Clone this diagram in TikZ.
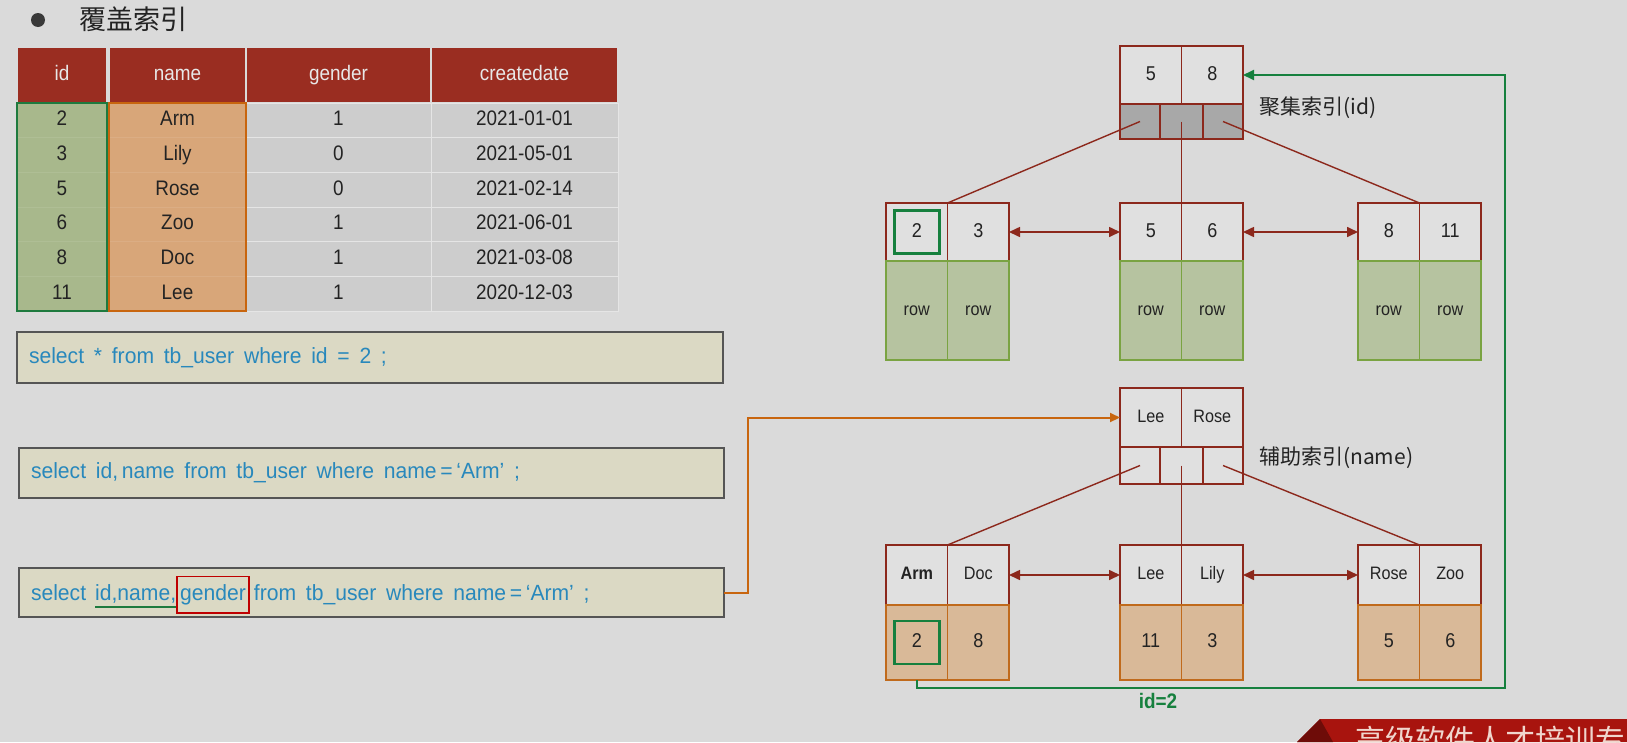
\documentclass[tikz,border=0pt]{standalone}
\usepackage{fontspec}
\setmainfont{Liberation Sans}
\newfontfamily\latfont{Liberation Sans}[FakeStretch=0.9]
\newfontfamily\qfont{Liberation Sans}[FakeStretch=0.96,WordSpace=1.66]
\newfontfamily\cjk{Noto Sans CJK SC}
\usepackage{xcolor}
\usetikzlibrary{positioning,calc,arrows.meta}

\definecolor{bgc}{RGB}{218,218,218}
\definecolor{hdred}{RGB}{154,45,33}
\definecolor{hdtxt}{RGB}{232,232,232}
\definecolor{txtdark}{RGB}{35,35,35}
\definecolor{idfill}{RGB}{168,184,140}
\definecolor{idline}{RGB}{30,122,62}
\definecolor{namefill}{RGB}{216,166,121}
\definecolor{nameline}{RGB}{200,101,14}
\definecolor{cellgrey}{RGB}{205,205,205}
\definecolor{qfill}{RGB}{219,217,196}
\definecolor{qline}{RGB}{85,85,85}
\definecolor{qblue}{RGB}{40,136,188}
\definecolor{treered}{RGB}{140,40,28}
\definecolor{keyfill}{RGB}{224,224,224}
\definecolor{ptrgrey}{RGB}{168,168,168}
\definecolor{leafgreen}{RGB}{122,163,66}
\definecolor{leafgfill}{RGB}{182,195,160}
\definecolor{leaforange}{RGB}{192,106,28}
\definecolor{leafofill}{RGB}{217,185,152}
\definecolor{hlgreen}{RGB}{22,128,62}
\definecolor{banred}{RGB}{168,20,14}
\definecolor{bandark}{RGB}{110,12,8}
\definecolor{bantxt}{RGB}{240,214,205}

\begin{document}
\begin{tikzpicture}[x=1pt, y=-1pt,
    hdr/.style={rectangle, fill=hdred, draw=bgc, line width=2pt, text=hdtxt, minimum height=56, inner sep=0pt, outer sep=0pt, text height=15pt, text depth=4pt, font=\latfont\fontsize{21}{24}\selectfont},
    cell/.style={rectangle, minimum height=34.67, inner sep=0pt, outer sep=0pt, line width=0.8pt, text=txtdark, text height=15pt, text depth=4pt, font=\latfont\fontsize{21}{24}\selectfont},
    idc/.style={cell, fill=idfill, draw=idfill!92!white, minimum width=90},
    namec/.style={cell, fill=namefill, draw=namefill!92!white, minimum width=137},
    grc/.style={cell, fill=cellgrey, draw=bgc!70!white},
    qbox/.style={rectangle, fill=qfill, draw=qline, line width=1.2pt, inner sep=0pt, outer sep=0pt},
    qtext/.style={text=qblue, inner sep=0pt, outer sep=0pt, font=\qfont\fontsize{22}{26}\selectfont},
    key/.style={rectangle, draw=treered, fill=keyfill, line width=1.6pt, minimum width=61.5, minimum height=58, inner sep=0pt, outer sep=0pt, text=txtdark, text height=14.5pt, text depth=4pt, font=\latfont\fontsize{20}{24}\selectfont},
    skey/.style={key, minimum height=59, text height=13pt, text depth=3.6pt, font=\latfont\fontsize{18}{22}\selectfont},
    ptr/.style={key, fill=ptrgrey, minimum height=35},
    rowc/.style={key, draw=leafgreen, fill=leafgfill, minimum height=99, text height=13pt, text depth=3.6pt, font=\latfont\fontsize{18}{22}\selectfont},
    valc/.style={key, draw=leaforange, fill=leafofill, minimum height=75},
    hibox/.style={rectangle, draw=hlgreen, line width=2.5pt, minimum width=45, minimum height=43, inner sep=0pt},
    tline/.style={treered, line width=1.4pt},
    link/.style={treered, line width=1.6pt, arrows={Triangle[length=11pt,width=10pt]-Triangle[length=11pt,width=10pt]}},
    cjklabel/.style={anchor=west, inner sep=0pt, text=txtdark, font=\cjk\fontsize{21}{24}\selectfont}]

    \useasboundingbox (0,0) rectangle (1627,742);
    \clip (0,0) rectangle (1627,742);
    \fill[bgc] (0,0) rectangle (1627,742);

    % title
    \node[circle, fill=txtdark!90, minimum size=14, inner sep=0pt] (dot) at (38,20) {};
    \node[anchor=west, inner sep=0pt, text=txtdark, font=\cjk\fontsize{27}{30}\selectfont] (title) at (79,19) {覆盖索引};

    % table header
    \node[hdr, minimum width=90] (hid) at (62,75) {id};
    \node[hdr, minimum width=137] (hname) at (177.5,75) {name};
    \node[hdr, minimum width=185] (hgender) at (338.5,75) {gender};
    \node[hdr, minimum width=187] (hdate) at (524.5,75) {createdate};

    % table rows
    \node[idc] (id1) at (62,120.33) {2};
    \node[idc, below=0pt of id1] (id2) {3};
    \node[idc, below=0pt of id2] (id3) {5};
    \node[idc, below=0pt of id3] (id4) {6};
    \node[idc, below=0pt of id4] (id5) {8};
    \node[idc, below=0pt of id5] (id6) {11};
    \node[namec] (nm1) at (177.5,120.33) {Arm};
    \node[namec, below=0pt of nm1] (nm2) {Lily};
    \node[namec, below=0pt of nm2] (nm3) {Rose};
    \node[namec, below=0pt of nm3] (nm4) {Zoo};
    \node[namec, below=0pt of nm4] (nm5) {Doc};
    \node[namec, below=0pt of nm5] (nm6) {Lee};
    \node[grc, minimum width=185] (gd1) at (338.5,120.33) {1};
    \node[grc, minimum width=185, below=0pt of gd1] (gd2) {0};
    \node[grc, minimum width=185, below=0pt of gd2] (gd3) {0};
    \node[grc, minimum width=185, below=0pt of gd3] (gd4) {1};
    \node[grc, minimum width=185, below=0pt of gd4] (gd5) {1};
    \node[grc, minimum width=185, below=0pt of gd5] (gd6) {1};
    \node[grc, minimum width=187] (dt1) at (524.5,120.33) {2021-01-01};
    \node[grc, minimum width=187, below=0pt of dt1] (dt2) {2021-05-01};
    \node[grc, minimum width=187, below=0pt of dt2] (dt3) {2021-02-14};
    \node[grc, minimum width=187, below=0pt of dt3] (dt4) {2021-06-01};
    \node[grc, minimum width=187, below=0pt of dt4] (dt5) {2021-03-08};
    \node[grc, minimum width=187, below=0pt of dt5] (dt6) {2020-12-03};
    % column frames
    \draw[idline, line width=2.2pt] (id1.north west) rectangle (id6.south east);
    \draw[nameline, line width=2.2pt] (nm1.north west) rectangle (nm6.south east);

    % queries
    \node[qbox, minimum width=706, minimum height=51] (q1) at (370,357.5) {};
    \node[qtext, right=12pt of q1.west] (q1t) {select * from tb\_user where id = 2 ;};
    \node[qbox, minimum width=705, minimum height=50] (q2) at (371.5,473) {};
    \node[qtext, right=12pt of q2.west] (q2t) {select id,\,name from tb\_user where name\,=\,‘Arm’ ;};
    \node[qbox, minimum width=705, minimum height=49] (q3) at (371.5,592.5) {};
    \node[qtext, right=12pt of q3.west] (q3a) {select};
    \node[qtext, base right=9pt of q3a] (q3b) {id,name,};
    \node[qtext, base right=1pt of q3b, draw=red!75!black, line width=1.6pt, inner xsep=3pt, inner ysep=8pt] (q3c) {gender};
    \node[qtext, base right=5pt of q3c] (q3d) {from tb\_user where name\,=\,‘Arm’ ;};
    \draw[idline, line width=2pt] ([yshift=-7pt]q3b.base west) -- ([yshift=-7pt]q3b.base east);

    % clustered index (id)
    \node[key] (cr5) at (1150.75,75) {5};
    \node[key, right=0pt of cr5] (cr8) {8};
    \node[ptr, minimum width=40] (cp1) at (1140,121.5) {};
    \node[ptr, minimum width=43, right=0pt of cp1] (cp2) {};
    \node[ptr, minimum width=40, right=0pt of cp2] (cp3) {};
    \node[cjklabel] (clabel) at (1259,108) {聚集索引(id)};
    % clustered leaves
    \node[key] (ck11) at (916.75,232) {2};
    \node[key, right=0pt of ck11] (ck12) {3};
    \node[rowc, below=0pt of ck11] (cw11) {row};
    \node[rowc, below=0pt of ck12] (cw12) {row};
    \node[key] (ck21) at (1150.75,232) {5};
    \node[key, right=0pt of ck21] (ck22) {6};
    \node[rowc, below=0pt of ck21] (cw21) {row};
    \node[rowc, below=0pt of ck22] (cw22) {row};
    \node[key] (ck31) at (1388.75,232) {8};
    \node[key, right=0pt of ck31] (ck32) {11};
    \node[rowc, below=0pt of ck31] (cw31) {row};
    \node[rowc, below=0pt of ck32] (cw32) {row};
    \node[hibox] (chl) at (ck11) {};
    \draw[tline] (cp1.center) -- (ck12.north west);
    \draw[tline] (cp2.center) -- (ck22.north west);
    \draw[tline] (cp3.center) -- (ck32.north west);
    \draw[link] (ck12.east) -- (ck21.west);
    \draw[link] (ck22.east) -- (ck31.west);

    % secondary index (name)
    \node[skey] (sr1) at (1150.75,417.5) {Lee};
    \node[skey, right=0pt of sr1] (sr2) {Rose};
    \node[key, minimum width=40, minimum height=37] (sp1) at (1140,465.5) {};
    \node[key, minimum width=43, minimum height=37, right=0pt of sp1] (sp2) {};
    \node[key, minimum width=40, minimum height=37, right=0pt of sp2] (sp3) {};
    \node[cjklabel] (slabel) at (1259,458) {辅助索引(name)};
    % secondary leaves
    \node[skey, minimum height=60] (sk11) at (916.75,575) {\bfseries Arm};
    \node[skey, minimum height=60, right=0pt of sk11] (sk12) {Doc};
    \node[valc, below=0pt of sk11] (sv11) {2};
    \node[valc, below=0pt of sk12] (sv12) {8};
    \node[skey, minimum height=60] (sk21) at (1150.75,575) {Lee};
    \node[skey, minimum height=60, right=0pt of sk21] (sk22) {Lily};
    \node[valc, below=0pt of sk21] (sv21) {11};
    \node[valc, below=0pt of sk22] (sv22) {3};
    \node[skey, minimum height=60] (sk31) at (1388.75,575) {Rose};
    \node[skey, minimum height=60, right=0pt of sk31] (sk32) {Zoo};
    \node[valc, below=0pt of sk31] (sv31) {5};
    \node[valc, below=0pt of sk32] (sv32) {6};
    \node[hibox] (shl) at (sv11) {};
    \draw[tline] (sp1.center) -- (sk12.north west);
    \draw[tline] (sp2.center) -- (sk22.north west);
    \draw[tline] (sp3.center) -- (sk32.north west);
    \draw[link] (sk12.east) -- (sk21.west);
    \draw[link] (sk22.east) -- (sk31.west);

    % query to secondary root
    \coordinate (oturn) at (748,417.5);
    \draw[nameline, line width=2pt, -{Triangle[length=10pt,width=9pt]}] (q3.east) -| (oturn) -- (sr1.west);

    % back to clustered root
    \coordinate (gturn) at (1505,688);
    \draw[hlgreen, line width=2.2pt, -{Triangle[length=11pt,width=10pt]}] (sv11.south) |- (gturn) |- (cr8.east);
    \node[text=hlgreen, inner sep=0pt, font=\latfont\bfseries\fontsize{21}{24}\selectfont] (idlabel) at (1158,701) {id=2};

    % banner
    \fill[banred] (1297,742) -- (1320,719) -- (1627,719) -- (1627,742) -- cycle;
    \fill[bandark] (1297,742) -- (1320,719) -- (1333,742) -- cycle;
    \node[anchor=west, inner sep=0pt, text=bantxt, font=\cjk\fontsize{30}{32}\selectfont] (banner) at (1355,740) {高级软件人才培训专家};
\end{tikzpicture}
\end{document}
